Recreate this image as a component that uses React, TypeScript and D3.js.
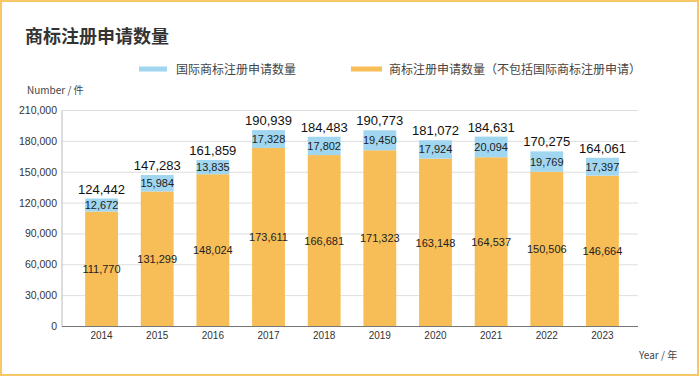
import React from "react";
import * as d3 from "d3";

const years = ["2014", "2015", "2016", "2017", "2018", "2019", "2020", "2021", "2022", "2023"];
const intlApps = [12672, 15984, 13835, 17328, 17802, 19450, 17924, 20094, 19769, 17397];
const domesticApps = [111770, 131299, 148024, 173611, 166681, 171323, 163148, 164537, 150506, 146664];
const yTicks = [0, 30000, 60000, 90000, 120000, 150000, 180000, 210000];

const title = "商标注册申请数量";
const legendIntl = "国际商标注册申请数量";
const legendDomestic = "商标注册申请数量（不包括国际商标注册申请）";

const W = 700;
const H = 377;
const BLUE = "#a0d6f0";
const ORANGE = "#f7bd57";
const FONT = "'Liberation Sans', Arial, Helvetica, sans-serif";
const CJK = "'Noto Sans CJK SC', 'Noto Sans', sans-serif";

export default function App() {
  const x = d3.scaleBand<string>().domain(years).range([74, 630]).paddingInner(0.41).paddingOuter(0.2);
  const y = d3.scaleLinear().domain([0, 210000]).range([326.5, 110.5]);
  const fmt = d3.format(",");
  const bw = x.bandwidth();

  return (
    <svg
      width={W}
      height={H}
      style={{ position: "absolute", left: 0, top: 0, background: "#fff" }}
    >
      <rect x={1} y={1} width={W - 3} height={H - 3} fill="#fff" stroke="#f8c766" strokeWidth={2} />
      <text x={25} y={43} fontFamily={CJK} fontWeight="bold" fontSize={18} fill="#333">
        {title}
      </text>
      {/* legend */}
      <rect x={139} y={66.5} width={28} height={5} fill={BLUE} />
      <text x={176} y={74} fontFamily={CJK} fontSize={12} fill="#444">
        {legendIntl}
      </text>
      <rect x={351} y={66.5} width={31} height={5} fill={ORANGE} />
      <text x={389} y={74} fontFamily={CJK} fontSize={12} fill="#444">
        {legendDomestic}
      </text>
      <text x={27} y={94} fontFamily={CJK} fontSize={10} fill="#444">
        Number / 件
      </text>
      <text x={639} y={359} fontFamily={CJK} fontSize={10} fill="#444">
        Year / 年
      </text>
      {/* grid */}
      {yTicks.map((t) => (
        <g key={t}>
          {t > 0 && <line x1={62} x2={638} y1={y(t)} y2={y(t)} stroke="#dedede" strokeWidth={1} />}
          <text x={57} y={y(t) + 3.5} textAnchor="end" fontFamily={FONT} fontSize={10.5} fill="#333">
            {fmt(t)}
          </text>
        </g>
      ))}
      <line x1={62} x2={62} y1={y(210000)} y2={y(0)} stroke="#bbb" strokeWidth={1} />
      {/* bars */}
      {years.map((yr, i) => {
        const x0 = x(yr)!;
        const cx = x0 + bw / 2;
        const d = domesticApps[i];
        const n = intlApps[i];
        const total = d + n;
        return (
          <g key={yr}>
            <rect x={x0} y={y(d)} width={bw} height={y(0) - y(d)} fill={ORANGE} />
            <rect x={x0} y={y(total)} width={bw} height={y(d) - y(total)} fill={BLUE} />
            <text x={cx} y={(y(d) + y(0)) / 2 + 4} textAnchor="middle" fontFamily={FONT} fontSize={11} fill="#222">
              {fmt(d)}
            </text>
            <text x={cx} y={(y(total) + y(d)) / 2 + 4} textAnchor="middle" fontFamily={FONT} fontSize={11} fill="#222">
              {fmt(n)}
            </text>
            <text x={cx} y={y(total) - 5} textAnchor="middle" fontFamily={FONT} fontSize={13} fill="#111">
              {fmt(total)}
            </text>
            <text x={cx} y={339} textAnchor="middle" fontFamily={FONT} fontSize={10} fill="#333">
              {yr}
            </text>
          </g>
        );
      })}
      <line x1={62} x2={638} y1={y(0)} y2={y(0)} stroke="#777" strokeWidth={1} />
    </svg>
  );
}
